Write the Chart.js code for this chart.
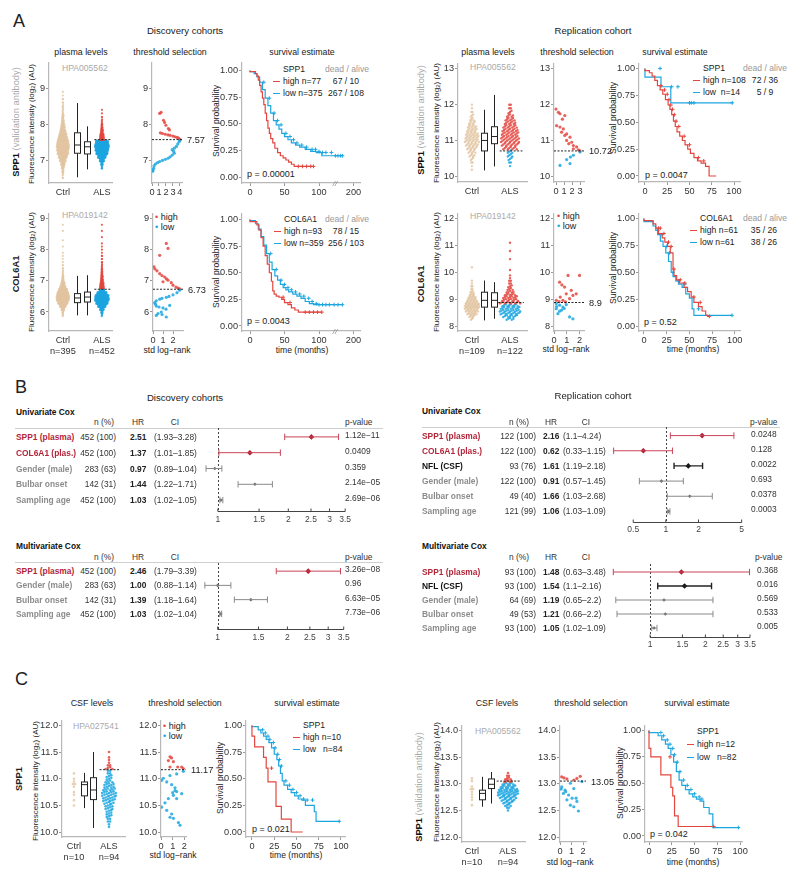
<!DOCTYPE html>
<html>
<head>
<meta charset="utf-8">
<title>SPP1 / COL6A1 plasma levels and survival</title>
<script src="https://cdn.jsdelivr.net/npm/chart.js@4/dist/chart.umd.min.js"></script>
<style>
  body { margin: 0; background: #fff; }
  #page { position: relative; width: 800px; height: 879px; overflow: hidden; font-family: 'Liberation Sans', Arial, sans-serif; color: #222; }
  #page canvas { position: absolute; }
  .t { position: absolute; white-space: nowrap; line-height: 1; font-size: 8.7px; }
  .hl { position: absolute; height: 0; border-top: 1.5px solid #cfcfcf; }
</style>
</head>
<body>
<div id="page"></div>
<script>
const RED = '#E4463F'
const BLUE = '#1CA6E0'
const RED_PT = 'rgba(228,70,63,0.85)'
const BLUE_PT = 'rgba(28,166,224,0.85)'
const BEIGE = 'rgba(226,196,160,0.8)'
const CRIMSON = '#B3263A'

// ---------- A: discovery cohorts, SPP1 (HPA005562) ----------
// strip plots are kept as counts per level (start value + step)
const discSppCtrlStart = 6.5
const discSppCtrl = [2, 3, 5, 9, 14, 22, 30, 38, 42, 44, 40, 34, 27, 20, 15, 11, 8, 6, 4, 3, 3, 2, 2, 1, 1]
const discSppAlsStart = 6.8
const discSppAls = [4, 10, 25, 45, 65, 75, 80, 71, 25, 20, 12, 8, 5, 3, 2, 1, 1]
const discSppBox = [[6.52, 7.19, 7.42, 7.76, 8.59], [6.74, 7.17, 7.37, 7.51, 7.94]]
const discSppCut = 7.57
const discSppThr = [[1.3, 8.33], [1.1, 8.3], [1.65, 8.11], [1.8, 8.05], [2.0, 7.97], [2.35, 7.88], [2.5, 7.84], [1.2, 7.76],
  [1.5, 7.74], [1.9, 7.72], [2.3, 7.7], [2.6, 7.69], [3.0, 7.67], [3.3, 7.65], [3.6, 7.63], [3.8, 7.61], [4.0, 7.58],
  [4.0, 7.55], [3.9, 7.51], [3.7, 7.45], [3.5, 7.38], [3.2, 7.33], [2.9, 7.29], [3.1, 7.24], [3.2, 7.19], [2.9, 7.14],
  [2.6, 7.09], [2.3, 7.05], [1.9, 7.02], [1.5, 6.99], [1.1, 6.96], [0.8, 6.93], [0.5, 6.89], [0.3, 6.84], [0.24, 6.77],
  [0.14, 6.72], [0.1, 6.69]]
const discSppHighT = [0, 8, 10, 12, 14, 16, 18, 20, 22, 24, 26, 28, 30, 33, 36, 40, 44, 48, 52, 56, 60, 64, 68, 92]
const discSppHighS = [1, 0.99, 0.97, 0.95, 0.91, 0.86, 0.8, 0.74, 0.68, 0.6, 0.53, 0.46, 0.41, 0.36, 0.32, 0.27, 0.23, 0.2, 0.18, 0.16, 0.14, 0.12, 0.1, 0.1]
const discSppHighCens = [70, 76, 82, 88, 92]
const discSppLowT = [0, 6, 10, 14, 18, 22, 26, 30, 34, 38, 42, 46, 50, 55, 60, 66, 72, 80, 88, 96, 104, 125, 157]
const discSppLowS = [1, 0.99, 0.97, 0.94, 0.89, 0.82, 0.74, 0.67, 0.6, 0.53, 0.49, 0.45, 0.41, 0.38, 0.35, 0.32, 0.3, 0.28, 0.26, 0.24, 0.23, 0.2, 0.2]
const discSppLowCens = [20, 28, 35, 40, 45, 52, 58, 63, 68, 75, 82, 90, 95, 100, 105, 110, 118, 130, 140, 150, 157]

// ---------- A: discovery cohorts, COL6A1 (HPA019142) ----------
const discColCtrlStart = 5.9
const discColCtrl = [3, 6, 14, 30, 48, 60, 62, 55, 42, 28, 18, 10, 6, 4, 3, 2, 2, 1, 1, 1, 1, 0, 1, 0, 1, 0, 0, 1, 0, 1]
const discColAlsStart = 5.9
const discColAls = [3, 8, 20, 42, 62, 75, 72, 52, 25, 22, 18, 12, 9, 7, 5, 4, 3, 2, 2, 2, 1, 1, 1, 1, 0, 1, 0, 1, 0, 1]
const discColBox = [[5.89, 6.3, 6.45, 6.59, 7.16], [5.89, 6.32, 6.48, 6.64, 7.18]]
const discColCut = 6.73
const discColThr = [[1.33, 8.2], [1.5, 8.04], [0.67, 7.82], [0.1, 7.45], [0.2, 7.38], [0.4, 7.32], [0.67, 7.23], [0.9, 7.17],
  [1.17, 7.12], [1.35, 7.06], [1.5, 7.02], [1.0, 6.97], [1.83, 6.94], [2.0, 6.86], [2.3, 6.8], [2.5, 6.77], [2.67, 6.74],
  [2.67, 6.7], [2.4, 6.62], [2.0, 6.55], [1.6, 6.5], [1.33, 6.47], [0.9, 6.44], [0.67, 6.41], [0.33, 6.36], [0.17, 6.3],
  [0.25, 6.25], [0.33, 6.19], [0.6, 6.16], [1.0, 6.13], [1.67, 6.21], [1.3, 6.09], [0.83, 6.0], [0.5, 5.95], [0.33, 5.89],
  [1.33, 5.84], [0.9, 5.92]]
const discColHighT = [0, 10, 13, 16, 19, 22, 25, 28, 31, 33, 35, 38, 42, 46, 50, 55, 60, 65, 70, 75, 104]
const discColHighS = [1, 0.98, 0.95, 0.9, 0.83, 0.75, 0.66, 0.58, 0.5, 0.42, 0.33, 0.3, 0.28, 0.27, 0.25, 0.22, 0.2, 0.17, 0.15, 0.13, 0.13]
const discColHighCens = [48, 58, 80, 86, 92, 98, 104]
const discColLowT = [0, 8, 12, 16, 20, 24, 28, 32, 36, 40, 44, 48, 52, 56, 62, 68, 74, 80, 86, 92, 98, 157]
const discColLowS = [1, 0.99, 0.96, 0.91, 0.84, 0.76, 0.68, 0.6, 0.53, 0.47, 0.43, 0.39, 0.36, 0.34, 0.32, 0.3, 0.28, 0.26, 0.23, 0.21, 0.2, 0.2]
const discColLowCens = [30, 38, 45, 50, 55, 60, 66, 72, 78, 85, 90, 96, 100, 105, 110, 115, 125, 140, 157]
const discTimeTicks = [0, 50, 100, 200]

// ---------- A: replication cohort, SPP1 ----------
const repSppCtrlStart = 10.2
const repSppCtrl = [1, 1, 2, 3, 5, 7, 9, 11, 13, 12, 11, 9, 8, 6, 4, 3, 2, 1, 1]
const repSppAlsStart = 10.3
const repSppAls = [1, 2, 3, 4, 4, 10, 12, 13, 13, 12, 11, 10, 8, 7, 5, 3, 2, 2]
const repSppBox = [[10.18, 10.72, 11.01, 11.21, 11.86], [10.29, 10.92, 11.12, 11.39, 12.27]]
const repSppCut = 10.72
const repSppThr = [[0, 11.88], [0.3, 11.79], [0.5, 11.75], [1.1, 11.7], [0.8, 11.6], [0.08, 11.42], [0.5, 11.38], [0.92, 11.33],
  [0.7, 11.24], [1.33, 11.19], [1.1, 11.15], [1.75, 11.1], [1.33, 11.01], [1.96, 10.96], [1.6, 10.92], [2.17, 10.87],
  [2.58, 10.83], [2.17, 10.78], [2.8, 10.75], [3.0, 10.72], [3.0, 10.69], [2.17, 10.6], [1.8, 10.55], [1.33, 10.48],
  [1.75, 10.37], [0.5, 10.32]]
const repSppHighT = [0, 5, 8, 11, 14, 17, 20, 23, 26, 28, 30, 32, 34, 36, 39, 42, 45, 48, 51, 55, 59, 63, 68, 72, 80]
const repSppHighS = [1, 0.98, 0.96, 0.93, 0.89, 0.84, 0.8, 0.76, 0.71, 0.66, 0.62, 0.57, 0.51, 0.46, 0.41, 0.37, 0.33, 0.29, 0.25, 0.21, 0.17, 0.14, 0.12, 0.09, 0]
const repSppHighCens = [18, 22, 25, 27, 29, 31, 33, 35, 38, 44, 50, 60, 66]
const repSppLowT = [0, 18, 29, 47, 98]
const repSppLowS = [1, 0.92, 0.83, 0.68, 0.68]
const repSppLowCens = [17, 30, 37, 50, 52, 55, 98]

// ---------- A: replication cohort, COL6A1 ----------
const repColCtrlStart = 8.3
const repColCtrl = [3, 6, 10, 13, 15, 15, 13, 10, 8, 5, 4, 2, 2, 1, 1, 0, 0, 0, 0, 1]
const repColAlsStart = 8.3
const repColAls = [5, 9, 12, 13, 12, 10, 13, 10, 9, 7, 5, 4, 3, 2, 2, 1, 1, 0, 1, 0, 0, 0, 1, 0, 0, 1, 0, 0, 1]
const repColBox = [[8.24, 8.73, 8.98, 9.28, 9.71], [8.3, 8.73, 8.98, 9.26, 9.65]]
const repColCut = 8.9
const repColThr = [[0.44, 9.65], [0.62, 9.55], [1.1, 9.9], [2.0, 9.9], [0.83, 9.47], [1.35, 9.35], [1.74, 9.22], [0.96, 9.22],
  [1.48, 9.16], [0.49, 9.1], [1.22, 9.04], [0.7, 8.98], [0.18, 8.98], [0.4, 8.93], [0.9, 8.92],
  [0.18, 8.86], [0.44, 8.8], [0.96, 8.82], [0.7, 8.73], [0.18, 8.67], [0.44, 8.58], [0.31, 8.49], [0.6, 8.62],
  [1.22, 8.37], [1.48, 8.3], [0.2, 8.75], [0.8, 8.68]]
const repColHighT = [0, 10, 13, 16, 20, 23, 26, 29, 32, 33, 36, 39, 44, 48, 52, 55, 60, 64, 68, 70, 72]
const repColHighS = [1, 0.98, 0.95, 0.91, 0.86, 0.82, 0.78, 0.74, 0.68, 0.53, 0.47, 0.43, 0.4, 0.36, 0.32, 0.27, 0.22, 0.18, 0.14, 0.1, 0.09]
const repColHighCens = [16, 18, 22, 27, 30, 33, 40, 45, 55, 62, 72]
const repColLowT = [0, 10, 13, 15, 18, 21, 24, 27, 30, 32, 35, 38, 42, 46, 50, 53, 55, 80, 97]
const repColLowS = [1, 0.97, 0.93, 0.89, 0.85, 0.79, 0.74, 0.68, 0.6, 0.5, 0.46, 0.42, 0.39, 0.36, 0.3, 0.26, 0.16, 0.1, 0.1]
const repColLowCens = [15, 20, 25, 28, 32, 38, 45, 60, 97]

// ---------- C: CSF, SPP1 (HPA027541) ----------
const csfSppCtrlStart = 10.5
const csfSppCtrl = [1, 0, 1, 0, 1, 1, 0, 1, 2, 1, 1, 0, 1]
const csfSppAlsStart = 10.1
const csfSppAls = [1, 1, 2, 2, 3, 3, 3, 4, 4, 5, 6, 6, 7, 7, 6, 5, 5, 4, 3, 3, 2, 2, 4, 2, 1, 1, 1, 0, 1]
const csfSppBox = [[10.45, 10.68, 10.89, 10.94, 11.11], [10.08, 10.61, 10.79, 11.02, 11.5]]
const csfSppCut = 11.17
const csfSppThr = [[0.77, 11.41], [0.9, 11.39], [0.63, 11.34], [1.06, 11.32], [0.77, 11.22], [1.43, 11.22], [1.77, 11.22],
  [1.91, 11.19], [1.91, 11.14], [1.34, 11.09], [0.77, 11.06], [0.2, 11.01], [0.06, 10.97], [0.49, 10.94], [0.91, 10.89],
  [1.2, 10.83], [1.34, 10.76], [1.77, 10.72], [1.06, 10.69], [1.34, 10.63], [0.63, 10.63], [0.34, 10.55], [0.06, 10.47],
  [0.49, 10.41], [0.91, 10.34], [0.77, 10.28], [1.06, 10.26], [1.49, 10.18], [1.63, 10.13], [1.2, 10.78], [1.0, 10.74]]
const csfSppHighT = [0, 3, 13, 16, 18, 27, 33, 44, 57]
const csfSppHighS = [1, 0.9, 0.8, 0.7, 0.6, 0.47, 0.24, 0.12, 0]
const csfSppHighCens = [22]
const csfSppLowT = [0, 7, 10, 13, 16, 19, 22, 25, 28, 30, 32, 34, 36, 40, 44, 48, 52, 56, 60, 70, 72, 80, 98]
const csfSppLowS = [1, 0.99, 0.96, 0.93, 0.9, 0.87, 0.84, 0.79, 0.73, 0.68, 0.62, 0.55, 0.48, 0.44, 0.4, 0.37, 0.34, 0.31, 0.3, 0.25, 0.19, 0.1, 0.1]
const csfSppLowCens = [12, 15, 18, 20, 24, 26, 29, 31, 33, 38, 42, 46, 50, 54, 58, 62, 68, 98]

// ---------- C: CSF, SPP1 (HPA005562, validation antibody) ----------
const csfValCtrlStart = 12.6
const csfValCtrl = [1, 0, 1, 1, 1, 1, 2, 1, 0, 1, 1]
const csfValAlsStart = 12.5
const csfValAls = [1, 2, 4, 6, 8, 10, 12, 12, 11, 9, 7, 5, 4, 2, 1]
const csfValBox = [[12.57, 12.7, 12.82, 12.88, 13.13], [12.63, 12.91, 12.99, 13.09, 13.22]]
const csfValCut = 13.05
const csfValThr = [[0.15, 13.13], [0.35, 13.11], [0.6, 13.09], [1.2, 13.07], [1.47, 13.1], [1.76, 13.14],
  [1.9, 13.04], [0.9, 13.01], [0.15, 12.94], [0.44, 12.88], [1.2, 12.91], [0.3, 12.82], [0.75, 12.79], [1.05, 12.73],
  [1.4, 12.73], [0.6, 12.7], [1.47, 12.67], [0.9, 12.6], [1.2, 12.57], [1.6, 12.49], [0.5, 12.85], [0.1, 12.9]]
const csfValHighT = [0, 2, 13, 24, 26, 28, 32, 47, 71]
const csfValHighS = [1, 0.83, 0.75, 0.58, 0.46, 0.38, 0.19, 0.09, 0.09]
const csfValHighCens = [23, 71]
const csfValLowT = [0, 10, 14, 18, 21, 24, 27, 30, 33, 36, 40, 44, 48, 52, 56, 60, 66, 70, 80, 98]
const csfValLowS = [1, 0.98, 0.95, 0.91, 0.87, 0.83, 0.77, 0.7, 0.61, 0.53, 0.48, 0.44, 0.4, 0.37, 0.35, 0.33, 0.27, 0.21, 0.08, 0.08]
const csfValLowCens = [13, 16, 20, 23, 26, 28, 31, 34, 38, 42, 46, 50, 55, 58, 98]

// ---------- B: Cox models ----------
const discUniLabel = ['SPP1 (plasma)', 'COL6A1 (plas.)', 'Gender (male)', 'Bulbar onset', 'Sampling age']
const discUniN = ['452 (100)', '452 (100)', '283 (63)', '142 (31)', '452 (100)']
const discUniHR = [2.51, 1.37, 0.97, 1.44, 1.03]
const discUniLo = [1.93, 1.01, 0.89, 1.22, 1.02]
const discUniHi = [3.28, 1.85, 1.04, 1.71, 1.05]
const discUniP = ['1.12e\u221211', '0.0409', '0.359', '2.14e\u221205', '2.69e\u221206']

const discMultiLabel = ['SPP1 (plasma)', 'Gender (male)', 'Bulbar onset', 'Sampling age']
const discMultiN = ['452 (100)', '283 (63)', '142 (31)', '452 (100)']
const discMultiHR = [2.46, 1.0, 1.39, 1.03]
const discMultiLo = [1.79, 0.88, 1.18, 1.02]
const discMultiHi = [3.39, 1.14, 1.64, 1.04]
const discMultiP = ['3.26e\u221208', '0.96', '6.63e\u221205', '7.73e\u221206']

const repUniLabel = ['SPP1 (plasma)', 'COL6A1 (plas.)', 'NFL (CSF)', 'Gender (male)', 'Bulbar onset', 'Sampling age']
const repUniN = ['122 (100)', '122 (100)', '93 (76)', '122 (100)', '49 (40)', '121 (99)']
const repUniHR = [2.16, 0.62, 1.61, 0.91, 1.66, 1.06]
const repUniLo = [1.1, 0.33, 1.19, 0.57, 1.03, 1.03]
const repUniHi = [4.24, 1.15, 2.18, 1.45, 2.68, 1.09]
const repUniP = ['0.0248', '0.128', '0.0022', '0.693', '0.0378', '0.0003']

const repMultiLabel = ['SPP1 (plasma)', 'NFL (CSF)', 'Gender (male)', 'Bulbar onset', 'Sampling age']
const repMultiN = ['93 (100)', '93 (100)', '64 (69)', '49 (53)', '93 (100)']
const repMultiHR = [1.48, 1.54, 1.19, 1.21, 1.05]
const repMultiLo = [0.63, 1.1, 0.65, 0.66, 1.02]
const repMultiHi = [3.48, 2.16, 2.2, 2.2, 1.09]
const repMultiP = ['0.368', '0.016', '0.569', '0.533', '0.005']

// ---------- helpers ----------
Chart.defaults.font.family = "'Liberation Sans', Arial, sans-serif"
Chart.defaults.font.size = 9.2
Chart.defaults.color = '#333'
Chart.defaults.plugins.legend.display = false
Chart.defaults.plugins.tooltip.enabled = false

const page = document.getElementById('page')

const txt = (x, y, html, css = '', align = 'l') => {
  const d = document.createElement('div')
  d.className = 't'
  d.innerHTML = html
  const tx = align === 'c' ? '-50%' : align === 'r' ? '-100%' : '0'
  d.style.cssText = `left:${x}px;top:${y}px;transform:translate(${tx},-50%);${css}`
  page.appendChild(d)
}
const vtxt = (x, y, html, css = '') => {
  const d = document.createElement('div')
  d.className = 't'
  d.innerHTML = html
  d.style.cssText = `left:${x}px;top:${y}px;transform:translate(-50%,-50%) rotate(-90deg);${css}`
  page.appendChild(d)
}
const hline = (x1, x2, y) => {
  const d = document.createElement('div')
  d.className = 'hl'
  d.style.cssText = `left:${x1}px;top:${y}px;width:${x2 - x1}px`
  page.appendChild(d)
}

const axisBorder = { color: '#b8b8b8', width: 1.2 }
const tickGrid = { drawOnChartArea: false, tickLength: 3, color: '#999' }
const noGrid = { display: false, drawTicks: false }

function linAxis(min, max, ticks, fmt, extra = {}) {
  return Object.assign({
    type: 'linear', min, max,
    afterBuildTicks: s => { s.ticks = ticks.map(v => ({ value: v })) },
    border: axisBorder,
    grid: tickGrid,
    ticks: { callback: fmt, autoSkip: false, maxRotation: 0, padding: 1 }
  }, extra)
}

// places a canvas so that the plot area lands on (L, T, W, H)
function mk(L, T, W, H, yW, xH, padR, cfg) {
  const padT = 6
  const c = document.createElement('canvas')
  c.width = W + yW + 4 + padR
  c.height = H + padT + xH + 2
  c.style.left = (L - yW - 4) + 'px'
  c.style.top = (T - padT) + 'px'
  page.appendChild(c)
  cfg.options.responsive = false
  cfg.options.animation = false
  cfg.options.layout = { padding: { left: 4, right: padR, top: padT, bottom: 2 } }
  cfg.options.scales.x.afterFit = s => { s.height = xH }
  cfg.options.scales.y.afterFit = s => { s.width = yW }
  return new Chart(c, cfg)
}

// beeswarm layout of the counted levels
function swarm(start, step, counts, x0, half, cap) {
  const gap = Math.min(2 * half / Math.max(...counts), cap)
  const pts = []
  counts.forEach((c, i) => {
    const v = +(start + i * step).toFixed(3)
    for (let j = 0; j < c; j++) {
      const dy = c > 2 ? ((j % 3) - 1) * step / 3 : 0
      pts.push({ x: x0 + (j - (c - 1) / 2) * gap, y: v + dy, v })
    }
  })
  return pts
}

const boxPlugin = o => ({
  id: 'boxes',
  afterDatasetsDraw(ch) {
    const { ctx, chartArea: a, scales: { x, y } } = ch
    ctx.save()
    ctx.strokeStyle = '#222'
    ctx.lineWidth = 1
    o.boxes.forEach((b, i) => {
      const cx = Math.round(x.getPixelForValue(o.pos[i + 1])) + 0.5
      const [lo, q1, md, q3, hi] = b.map(v => y.getPixelForValue(v))
      ctx.beginPath()
      ctx.moveTo(cx, lo); ctx.lineTo(cx, q1)
      ctx.moveTo(cx, q3); ctx.lineTo(cx, hi)
      ctx.stroke()
      ctx.fillStyle = '#fff'
      ctx.fillRect(cx - 3, q3, 6, q1 - q3)
      ctx.strokeRect(cx - 3, q3, 6, q1 - q3)
      ctx.beginPath(); ctx.moveTo(cx - 3, md); ctx.lineTo(cx + 3, md); ctx.stroke()
    })
    const ty = y.getPixelForValue(o.cut)
    ctx.setLineDash([2, 1.5])
    ctx.beginPath()
    ctx.moveTo(x.getPixelForValue(o.pos[3] - o.alsHalf - 0.05), ty)
    ctx.lineTo(Math.min(a.right, x.getPixelForValue(o.pos[3] + o.alsHalf + 0.2)), ty)
    ctx.stroke()
    ctx.restore()
  }
})

function plasma(L, T, W, H, yW, xH, o) {
  const ctrl = swarm(o.ctrlStart, o.step, o.ctrl, o.pos[0], o.ctrlHalf, o.cap)
  const als = swarm(o.alsStart, o.step, o.als, o.pos[3], o.alsHalf, o.cap)
  const x = linAxis(0, 5, [o.pos[0], o.pos[3]], (v, i) => o.xLabels[i], { grid: noGrid })
  x.ticks.padding = 4
  mk(L, T, W, H, yW, xH, 10, {
    type: 'scatter',
    data: { datasets: [
      { data: ctrl, pointRadius: o.r, pointBorderWidth: 0, pointBackgroundColor: BEIGE },
      { data: als, pointRadius: o.r, pointBorderWidth: 0, pointBackgroundColor: c => (c.raw && c.raw.v >= o.cut) ? RED_PT : BLUE_PT }
    ] },
    options: { scales: { x, y: linAxis(o.ymin, o.ymax, o.yTicks, o.yFmt) } },
    plugins: [boxPlugin(o)]
  })
}

const cutLine = (cut, label) => ({
  id: 'cut',
  afterDatasetsDraw(ch) {
    const { ctx, chartArea: a, scales: { y } } = ch
    const ty = y.getPixelForValue(cut)
    ctx.save()
    ctx.strokeStyle = '#222'
    ctx.lineWidth = 1
    ctx.setLineDash([2, 1.5])
    ctx.beginPath(); ctx.moveTo(a.left, ty); ctx.lineTo(a.right, ty); ctx.stroke()
    ctx.fillStyle = '#222'
    ctx.font = "9.2px 'Liberation Sans', Arial, sans-serif"
    ctx.textBaseline = 'middle'
    ctx.fillText(label, a.right + 5, ty + 1)
    ctx.restore()
  }
})

function thr(L, T, W, H, yW, o) {
  mk(L, T, W, H, yW, 16, 32, {
    type: 'scatter',
    data: { datasets: [{
      data: o.pts.map(p => ({ x: p[0], y: p[1] })),
      pointRadius: 1.6, pointBorderWidth: 0,
      pointBackgroundColor: c => (c.raw && c.raw.y >= o.cut) ? RED_PT : BLUE_PT
    }] },
    options: { scales: {
      x: linAxis(o.xmin, o.xmax, o.xTicks, v => v),
      y: linAxis(o.ymin, o.ymax, o.yTicks, o.yFmt)
    } },
    plugins: [cutLine(o.cut, o.cutLabel)]
  })
}

const survAt = (t, ts, ss) => {
  let v = ss[0]
  ts.forEach((tt, i) => { if (tt <= t) v = ss[i] })
  return v
}
const discBreak = t => t <= 120 ? t : 120 + (t - 120) * 0.375

const breakMark = at => ({
  id: 'brk',
  afterDraw(ch) {
    const { ctx, chartArea: a, scales: { x } } = ch
    ctx.save()
    ctx.fillStyle = '#888'
    ctx.font = "italic 8px 'Liberation Sans', Arial, sans-serif"
    ctx.textAlign = 'center'
    ctx.textBaseline = 'middle'
    ctx.fillText('//', x.getPixelForValue(at), a.bottom + 1)
    ctx.restore()
  }
})

function km(L, T, W, H, o) {
  const tx = o.tx || (t => t)
  const datasets = []
  o.curves.forEach(cv => {
    datasets.push({
      data: cv.t.map((t, i) => ({ x: tx(t), y: cv.s[i] })),
      showLine: true, stepped: 'after', borderColor: cv.color, borderWidth: 1.2, pointRadius: 0
    })
    datasets.push({
      data: cv.cens.map(t => ({ x: tx(t), y: survAt(t, cv.t, cv.s) })),
      pointStyle: 'cross', pointRadius: 1.9, pointBorderWidth: 1, pointBorderColor: cv.color
    })
  })
  mk(L, T, W, H, 24, 16, 12, {
    type: 'scatter',
    data: { datasets },
    options: { scales: {
      x: linAxis(o.xmin, o.xmax, o.xTicks.map(tx), (v, i) => o.xTicks[i]),
      y: linAxis(o.ymin, o.ymax, [0, 0.25, 0.5, 0.75, 1], v => v.toFixed(2))
    } },
    plugins: o.tx ? [breakMark(123)] : []
  })
}

const kindOf = lab => /^(SPP1|COL6A1)/.test(lab) ? 'prot' : /^NFL/.test(lab) ? 'nfl' : 'cov'
const forestStyle = {
  prot: { line: '#C94458', w: 1, pt: '#B01C30', r: 2.8, text: CRIMSON },
  nfl: { line: '#222', w: 1.4, pt: '#111', r: 2.8, text: '#111' },
  cov: { line: '#8a8a8a', w: 1, pt: '#666', r: 1.8, text: '#8c8c8c' }
}

const forestAxis = g => ({
  id: 'faxis',
  beforeDatasetsDraw(ch) {
    const { ctx, chartArea: a, scales: { x } } = ch
    const x1 = Math.round(x.getPixelForValue(1)) + 0.5
    const yl = Math.round(a.bottom + g.lineOff) + 0.5
    ctx.save()
    ctx.strokeStyle = '#444'
    ctx.lineWidth = 1
    ctx.setLineDash([2, 2])
    ctx.beginPath(); ctx.moveTo(x1, a.top - 1); ctx.lineTo(x1, yl); ctx.stroke()
    ctx.setLineDash([])
    ctx.beginPath()
    ctx.moveTo(x.getPixelForValue(g.axMin), yl); ctx.lineTo(x.getPixelForValue(g.axMax), yl)
    g.ticks.forEach(v => { const px = x.getPixelForValue(v); ctx.moveTo(px, yl); ctx.lineTo(px, yl - 3) })
    ctx.stroke()
    ctx.restore()
  }
})

function forest(g, lab, hr, lo, hi) {
  const datasets = []
  hr.forEach((h, i) => {
    const st = forestStyle[kindOf(lab[i])]
    datasets.push({
      data: [{ x: lo[i], y: i }, { x: hi[i], y: i }], showLine: true,
      borderColor: st.line, borderWidth: st.w,
      pointStyle: 'line', pointRotation: 90, pointRadius: 3.2, pointBorderColor: st.line, pointBorderWidth: st.w
    })
    datasets.push({
      data: [{ x: h, y: i }], pointStyle: 'rectRot', pointRadius: st.r,
      pointBackgroundColor: st.pt, pointBorderColor: st.pt, pointBorderWidth: 0
    })
  })
  mk(g.L, g.T, g.W, g.H, 0, g.labelPad + 13, 12, {
    type: 'scatter',
    data: { datasets },
    options: { scales: {
      x: {
        type: 'logarithmic', min: g.min, max: g.max,
        afterBuildTicks: s => { s.ticks = g.ticks.map(v => ({ value: v })) },
        border: { display: false }, grid: noGrid,
        ticks: { callback: v => String(v), autoSkip: false, maxRotation: 0, padding: g.labelPad, font: { size: 8.5 }, color: '#444' }
      },
      y: { type: 'linear', min: -0.5, max: hr.length - 0.5, reverse: true, display: false }
    } },
    plugins: [forestAxis(g)]
  })
}

function table(g, cols, lab, n, hr, lo, hi, p) {
  const step = g.H / lab.length
  const f = 'font-size:8.4px;'
  lab.forEach((l, i) => {
    const y = g.T + (i + 0.5) * step
    txt(cols.label, y, l, f + `font-weight:bold;color:${forestStyle[kindOf(l)].text}`)
    txt(cols.n, y, n[i], f + 'color:#333', 'r')
    txt(cols.hr, y, hr[i].toFixed(2), f + 'font-weight:bold;color:#222')
    txt(cols.ci, y, `(${lo[i]}\u2013${hi[i]})`, f + 'color:#333')
    txt(cols.p, y - 2, p[i], f + 'color:#333')
  })
}

function kmLegend(x, y, dy, title, rows, daX) {
  const f = 'font-size:8.6px;'
  txt(x, y, title, f)
  if (daX) txt(daX, y, 'dead / alive', f + 'color:#999')
  rows.forEach((r, i) => {
    const yy = y + dy * (i + 1)
    const d = document.createElement('div')
    d.style.cssText = `position:absolute;left:${x - 10}px;top:${yy - 0.5}px;width:7px;height:1.6px;background:${r.c}`
    page.appendChild(d)
    txt(x, yy, r.lab, f)
    if (r.da) txt(r.daC, yy, r.da, f, 'c')
  })
}

const FLUO = 'Fluorescence intensity (log<sub style="font-size:6px;vertical-align:-1px">2</sub>) (AU)'
const VALID = '<b style="color:#111">SPP1</b> <span style="color:#aaa">(validation antibody)</span>'
const intFmt = v => v
const oneDec = v => v.toFixed(1)

// ---------- panel A ----------
txt(13, 21, 'A', 'font-size:18px')
txt(185, 31, 'Discovery cohorts', 'font-size:9.6px', 'c')
txt(593, 31, 'Replication cohort', 'font-size:9.6px', 'c')
;[[81, 'plasma levels'], [170, 'threshold selection'], [302, 'survival estimate'],
  [488, 'plasma levels'], [577, 'threshold selection'], [675, 'survival estimate']]
  .forEach(([x, s]) => txt(x, 52, s, 'font-size:8.8px', 'c'))

vtxt(17, 122, VALID, 'font-size:9.3px')
vtxt(32, 124, FLUO, 'font-size:8px')
vtxt(17, 274, '<b>COL6A1</b>', 'font-size:9.3px')
vtxt(32, 272, FLUO, 'font-size:8px')
vtxt(422, 120, VALID, 'font-size:9.3px')
vtxt(437, 123, FLUO, 'font-size:8px')
vtxt(422, 284, '<b>COL6A1</b>', 'font-size:9.3px')
vtxt(437, 272, FLUO, 'font-size:8px')
vtxt(216, 121, 'Survival probability', 'font-size:8.6px')
vtxt(216, 272, 'Survival probability', 'font-size:8.6px')
vtxt(613, 118, 'Survival probability', 'font-size:8.6px')
vtxt(613, 268, 'Survival probability', 'font-size:8.6px')
txt(167, 350, 'std log\u2212rank', 'font-size:8.6px', 'c')
txt(302, 350, 'time (months)', 'font-size:8.6px', 'c')
txt(566, 349, 'std log\u2212rank', 'font-size:8.6px', 'c')
txt(693, 349, 'time (months)', 'font-size:8.6px', 'c')

txt(62, 68, 'HPA005562', 'font-size:8.6px;color:#aaa')
txt(62, 215, 'HPA019142', 'font-size:8.6px;color:#aaa')
txt(470, 67, 'HPA005562', 'font-size:8.6px;color:#aaa')
txt(470, 216, 'HPA019142', 'font-size:8.6px;color:#aaa')

const dot = c => `<span style="color:${c};font-size:9px">\u2022</span>`
txt(155, 217, `${dot(RED)} high`, 'font-size:9px')
txt(155, 227, `${dot(BLUE)} low`, 'font-size:9px')
txt(557, 216, `${dot(RED)} high`, 'font-size:9px')
txt(557, 226, `${dot(BLUE)} low`, 'font-size:9px')

kmLegend(283, 69, 12, 'SPP1', [
  { c: RED, lab: 'high n=77', da: '67 / 10', daC: 346 },
  { c: BLUE, lab: 'low n=375', da: '267 / 108', daC: 346 }], 325)
kmLegend(284, 219, 12, 'COL6A1', [
  { c: RED, lab: 'high n=93', da: '78 / 15', daC: 346 },
  { c: BLUE, lab: 'low n=359', da: '256 / 103', daC: 346 }], 325)
kmLegend(703, 68, 12, 'SPP1', [
  { c: RED, lab: 'high n=108', da: '72 / 36', daC: 765 },
  { c: BLUE, lab: 'low&nbsp;&nbsp;n=14', da: '5 / 9', daC: 765 }], 743)
kmLegend(700, 218, 12, 'COL6A1', [
  { c: RED, lab: 'high n=61', da: '35 / 26', daC: 764 },
  { c: BLUE, lab: 'low n=61', da: '38 / 26', daC: 764 }], 743)

txt(247, 174, 'p = 0.00001', 'font-size:9px')
txt(247, 321, 'p = 0.0043', 'font-size:9px')
txt(645, 175, 'p = 0.0047', 'font-size:9px')
txt(644, 322, 'p = 0.52', 'font-size:9px')

plasma(49, 62, 63, 121, 14, 16, {
  ctrlStart: discSppCtrlStart, ctrl: discSppCtrl, alsStart: discSppAlsStart, als: discSppAls, step: 0.1,
  pos: [1.1, 2.2, 3.0, 4.2], ctrlHalf: 0.5, alsHalf: 0.55, cap: 0.16, r: 1.1,
  cut: discSppCut, boxes: discSppBox, ymin: 6.36, ymax: 9.72, yTicks: [7, 8, 9], yFmt: intFmt, xLabels: ['Ctrl', 'ALS']
})
thr(152, 62, 30, 121, 14, {
  pts: discSppThr, cut: discSppCut, cutLabel: '7.57', xmin: 0, xmax: 4.3, xTicks: [0, 1, 2, 3, 4],
  ymin: 6.36, ymax: 9.72, yTicks: [7, 8, 9], yFmt: intFmt
})
km(242, 62, 118, 121, {
  xmin: -11.6, xmax: 159.4, ymin: -0.056, ymax: 1.075, xTicks: discTimeTicks, tx: discBreak,
  curves: [
    { t: discSppHighT, s: discSppHighS, cens: discSppHighCens, color: RED },
    { t: discSppLowT, s: discSppLowS, cens: discSppLowCens, color: BLUE }]
})

plasma(49, 213, 63, 118, 14, 30, {
  ctrlStart: discColCtrlStart, ctrl: discColCtrl, alsStart: discColAlsStart, als: discColAls, step: 0.1,
  pos: [1.1, 2.2, 3.0, 4.2], ctrlHalf: 0.5, alsHalf: 0.55, cap: 0.16, r: 1.1,
  cut: discColCut, boxes: discColBox, ymin: 5.39, ymax: 9.16, yTicks: [6, 7, 8, 9], yFmt: intFmt,
  xLabels: [['Ctrl', 'n=395'], ['ALS', 'n=452']]
})
thr(153, 213, 30, 118, 14, {
  pts: discColThr, cut: discColCut, cutLabel: '6.73', xmin: 0, xmax: 3.0, xTicks: [0, 1, 2],
  ymin: 5.39, ymax: 9.16, yTicks: [6, 7, 8, 9], yFmt: intFmt
})
km(242, 213, 118, 118, {
  xmin: -11.6, xmax: 159.4, ymin: -0.047, ymax: 1.056, xTicks: discTimeTicks, tx: discBreak,
  curves: [
    { t: discColHighT, s: discColHighS, cens: discColHighCens, color: RED },
    { t: discColLowT, s: discColLowS, cens: discColLowCens, color: BLUE }]
})

plasma(458, 63, 69, 119, 16, 16, {
  ctrlStart: repSppCtrlStart, ctrl: repSppCtrl, alsStart: repSppAlsStart, als: repSppAls, step: 0.1,
  pos: [1.01, 1.88, 2.61, 3.77], ctrlHalf: 0.55, alsHalf: 0.7, cap: 0.16, r: 1.2,
  cut: repSppCut, boxes: repSppBox, ymin: 9.86, ymax: 13.14, yTicks: [10, 11, 12, 13], yFmt: intFmt, xLabels: ['Ctrl', 'ALS']
})
thr(554, 63, 30, 119, 16, {
  pts: repSppThr, cut: repSppCut, cutLabel: '10.72', xmin: -0.25, xmax: 3.5, xTicks: [0, 1, 2, 3],
  ymin: 9.86, ymax: 13.14, yTicks: [10, 11, 12, 13], yFmt: intFmt
})
km(639, 63, 101, 119, {
  xmin: -6.7, xmax: 106.7, ymin: -0.056, ymax: 1.046, xTicks: [0, 25, 50, 75, 100],
  curves: [
    { t: repSppHighT, s: repSppHighS, cens: repSppHighCens, color: RED },
    { t: repSppLowT, s: repSppLowS, cens: repSppLowCens, color: BLUE }]
})

plasma(458, 213, 69, 118, 16, 30, {
  ctrlStart: repColCtrlStart, ctrl: repColCtrl, alsStart: repColAlsStart, als: repColAls, step: 0.1,
  pos: [1.01, 1.88, 2.61, 3.77], ctrlHalf: 0.55, alsHalf: 0.8, cap: 0.16, r: 1.2,
  cut: repColCut, boxes: repColBox, ymin: 7.85, ymax: 12.18, yTicks: [8, 9, 10, 11, 12], yFmt: intFmt,
  xLabels: [['Ctrl', 'n=109'], ['ALS', 'n=122']]
})
thr(554, 213, 30, 118, 16, {
  pts: repColThr, cut: repColCut, cutLabel: '8.9', xmin: 0, xmax: 2.35, xTicks: [0, 1, 2],
  ymin: 7.85, ymax: 12.18, yTicks: [8, 9, 10, 11, 12], yFmt: intFmt
})
km(639, 213, 101, 118, {
  xmin: -5.5, xmax: 105.8, ymin: -0.046, ymax: 1.046, xTicks: [0, 25, 50, 75, 100],
  curves: [
    { t: repColHighT, s: repColHighS, cens: repColHighCens, color: RED },
    { t: repColLowT, s: repColLowS, cens: repColLowCens, color: BLUE }]
})

// ---------- panel B ----------
txt(15, 387, 'B', 'font-size:18px')
txt(185, 398, 'Discovery cohorts', 'font-size:9.6px', 'c')
txt(593, 396, 'Replication cohort', 'font-size:9.6px', 'c')

const hdr = 'font-size:8.4px;color:#333'
const ttl = 'font-size:8.4px;font-weight:bold;color:#111'
const discCols = { label: 16, n: 116, hr: 130, ci: 154, p: 345 }
const repUniCols = { label: 422, n: 536, hr: 543, ci: 563, p: 751 }
const repMultiCols = { label: 422, n: 536, hr: 543, ci: 563, p: 757 }

txt(16, 412, 'Univariate Cox', ttl)
txt(104, 422, 'n (%)', hdr, 'c'); txt(138, 422, 'HR', hdr, 'c'); txt(175, 422, 'CI', hdr, 'c'); txt(345, 422, 'p-value', hdr)
hline(15, 383, 428)
txt(16, 546, 'Multivariate Cox', ttl)
txt(104, 557, 'n (%)', hdr, 'c'); txt(138, 557, 'HR', hdr, 'c'); txt(175, 557, 'CI', hdr, 'c'); txt(345, 557, 'p-value', hdr)
hline(15, 383, 562)
txt(422, 411, 'Univariate Cox', ttl)
txt(519, 422, 'n (%)', hdr, 'c'); txt(551, 422, 'HR', hdr, 'c'); txt(586, 422, 'CI', hdr, 'c'); txt(750, 422, 'p-value', hdr)
hline(422, 780, 427)
txt(422, 546, 'Multivariate Cox', ttl)
txt(519, 557, 'n (%)', hdr, 'c'); txt(551, 557, 'HR', hdr, 'c'); txt(586, 557, 'CI', hdr, 'c'); txt(755, 557, 'p-value', hdr)

const gDiscUni = { L: 200, T: 429, W: 150, H: 79, min: 0.847, max: 3.67, ticks: [1, 1.5, 2, 2.5, 3, 3.5], axMin: 1, axMax: 3.5, lineOff: 3, labelPad: 7 }
const gDiscMulti = { L: 200, T: 564, W: 150, H: 57, min: 0.847, max: 3.67, ticks: [1, 1.5, 2, 2.5, 3, 3.5], axMin: 1, axMax: 3.5, lineOff: 8, labelPad: 12 }
const gRepUni = { L: 605, T: 428, W: 143, H: 91, min: 0.283, max: 5.72, ticks: [0.5, 1, 2, 5], axMin: 0.5, axMax: 5, lineOff: 3, labelPad: 6 }
const gRepMulti = { L: 608, T: 565, W: 146, H: 70, min: 0.601, max: 3.68, ticks: [1, 1.5, 2, 2.5, 3, 3.5], axMin: 1, axMax: 3.5, lineOff: 2, labelPad: 5 }

forest(gDiscUni, discUniLabel, discUniHR, discUniLo, discUniHi)
table(gDiscUni, discCols, discUniLabel, discUniN, discUniHR, discUniLo, discUniHi, discUniP)
forest(gDiscMulti, discMultiLabel, discMultiHR, discMultiLo, discMultiHi)
table(gDiscMulti, discCols, discMultiLabel, discMultiN, discMultiHR, discMultiLo, discMultiHi, discMultiP)
forest(gRepUni, repUniLabel, repUniHR, repUniLo, repUniHi)
table(gRepUni, repUniCols, repUniLabel, repUniN, repUniHR, repUniLo, repUniHi, repUniP)
forest(gRepMulti, repMultiLabel, repMultiHR, repMultiLo, repMultiHi)
table(gRepMulti, repMultiCols, repMultiLabel, repMultiN, repMultiHR, repMultiLo, repMultiHi, repMultiP)

// ---------- panel C ----------
txt(15, 679, 'C', 'font-size:18px')
;[[92, 'CSF levels'], [185, 'threshold selection'], [307, 'survival estimate'],
  [497, 'CSF levels'], [591, 'threshold selection'], [697, 'survival estimate']]
  .forEach(([x, s]) => txt(x, 703, s, 'font-size:8.8px', 'c'))

vtxt(20, 779, '<b>SPP1</b>', 'font-size:9.3px')
vtxt(36, 781, FLUO, 'font-size:8px')
vtxt(220, 778, 'Survival probability', 'font-size:8.6px')
txt(173, 855, 'std log\u2212rank', 'font-size:8.6px', 'c')
txt(296, 855, 'time (months)', 'font-size:8.6px', 'c')
vtxt(420, 787, VALID, 'font-size:9.3px')
vtxt(437, 782, FLUO, 'font-size:8px')
vtxt(620, 783, 'Survival probability', 'font-size:8.6px')
txt(570, 862, 'std log\u2212rank', 'font-size:8.6px', 'c')
txt(693, 862, 'time (months)', 'font-size:8.6px', 'c')

txt(73, 726, 'HPA027541', 'font-size:8.6px;color:#aaa')
txt(475, 731, 'HPA005562', 'font-size:8.6px;color:#aaa')
txt(163, 726, `${dot(RED)} high`, 'font-size:9px')
txt(163, 736, `${dot(BLUE)} low`, 'font-size:9px')

kmLegend(303, 725, 12, 'SPP1', [
  { c: RED, lab: 'high n=10' },
  { c: BLUE, lab: 'low&nbsp;&nbsp; n=84' }])
kmLegend(697, 731, 13, 'SPP1', [
  { c: RED, lab: 'high n=12' },
  { c: BLUE, lab: 'low&nbsp;&nbsp; n=82' }])
txt(252, 829, 'p = 0.021', 'font-size:9px')
txt(650, 834, 'p = 0.042', 'font-size:9px')

plasma(62, 720, 63, 117, 22, 30, {
  ctrlStart: csfSppCtrlStart, ctrl: csfSppCtrl, alsStart: csfSppAlsStart, als: csfSppAls, step: 0.05,
  pos: [0.95, 1.75, 2.46, 3.73], ctrlHalf: 0.3, alsHalf: 0.7, cap: 0.18, r: 1.3,
  cut: csfSppCut, boxes: csfSppBox, ymin: 9.91, ymax: 12.09, yTicks: [10, 10.5, 11, 11.5, 12], yFmt: oneDec,
  xLabels: [['Ctrl', 'n=10'], ['ALS', 'n=94']]
})
thr(161, 720, 25, 117, 22, {
  pts: csfSppThr, cut: csfSppCut, cutLabel: '11.17', xmin: 0, xmax: 2.14, xTicks: [0, 1, 2],
  ymin: 9.91, ymax: 12.09, yTicks: [10, 10.5, 11, 11.5, 12], yFmt: oneDec
})
km(246, 720, 99, 117, {
  xmin: -6.7, xmax: 104.5, ymin: -0.047, ymax: 1.047, xTicks: [0, 25, 50, 75, 100],
  curves: [
    { t: csfSppHighT, s: csfSppHighS, cens: csfSppHighCens, color: RED },
    { t: csfSppLowT, s: csfSppLowS, cens: csfSppLowCens, color: BLUE }]
})

plasma(462, 725, 63, 117, 22, 30, {
  ctrlStart: csfValCtrlStart, ctrl: csfValCtrl, alsStart: csfValAlsStart, als: csfValAls, step: 0.05,
  pos: [0.79, 1.59, 2.3, 3.65], ctrlHalf: 0.3, alsHalf: 0.85, cap: 0.18, r: 1.3,
  cut: csfValCut, boxes: csfValBox, ymin: 11.91, ymax: 14.09, yTicks: [12, 12.5, 13, 13.5, 14], yFmt: oneDec,
  xLabels: [['Ctrl', 'n=10'], ['ALS', 'n=94']]
})
thr(560, 725, 26, 117, 22, {
  pts: csfValThr, cut: csfValCut, cutLabel: '13.05', xmin: 0, xmax: 2.26, xTicks: [0, 1, 2],
  ymin: 11.91, ymax: 14.09, yTicks: [12, 12.5, 13, 13.5, 14], yFmt: oneDec
})
km(645, 725, 97, 117, {
  xmin: -4.4, xmax: 102, ymin: -0.057, ymax: 1.047, xTicks: [0, 25, 50, 75, 100],
  curves: [
    { t: csfValHighT, s: csfValHighS, cens: csfValHighCens, color: RED },
    { t: csfValLowT, s: csfValLowS, cens: csfValLowCens, color: BLUE }]
})
</script>
</body>
</html>
